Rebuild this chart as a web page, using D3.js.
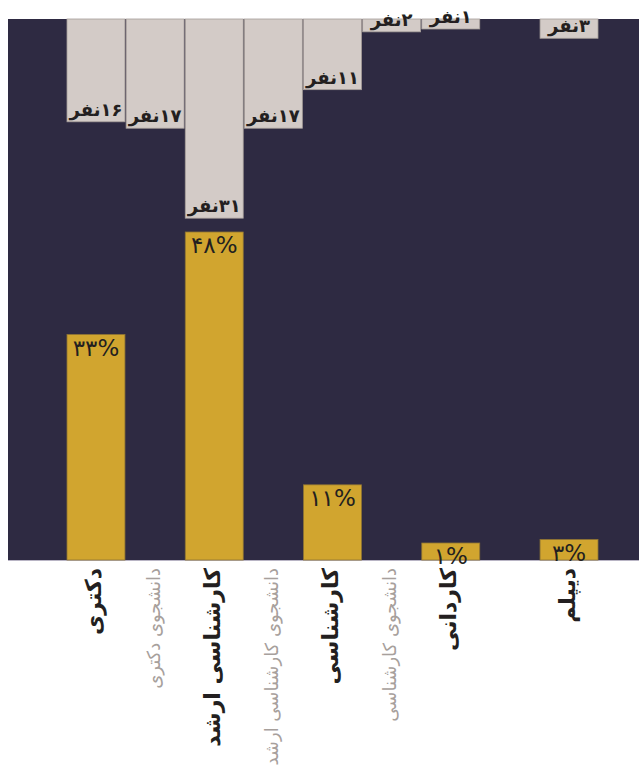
<!DOCTYPE html>
<html>
<head>
<meta charset="utf-8">
<script src="https://cdn.jsdelivr.net/npm/d3@7"></script>
<style>
  body { margin: 0; background: #fff; }
  text { font-family: "DejaVu Sans", sans-serif; }
</style>
</head>
<body>
<svg></svg>
<script>
// categories, left to right (one empty slot before diploma)
const categories = [
    "دکتری",
    "دانشجوی دکتری",
    "کارشناسی ارشد",
    "دانشجوی کارشناسی ارشد",
    "کارشناسی",
    "دانشجوی کارشناسی",
    "کاردانی",
    "",
    "دیپلم"
];
const isStudent = [false, true, false, true, false, true, false, false, false];

// number of people (grey bars hanging from the top)
const counts = [16, 17, 31, 17, 11, 2, 1, null, 3];
const countLabels = ["۱۶نفر", "۱۷نفر", "۳۱نفر", "۱۷نفر", "۱۱نفر", "۲نفر", "۱نفر", "", "۳نفر"];

// percentages (gold bars from the bottom)
const percents = [33, null, 48, null, 11, null, 1, null, 3];
const percentLabels = ["۳۳%", "", "۴۸%", "", "۱۱%", "", "۱%", "", "۳%"];

const W = 639, H = 765;
const panelTop = 19, panelBottom = 560;

const svg = d3.select("svg")
    .attr("width", W)
    .attr("height", H);

// dark panel
svg.append("rect")
    .attr("x", 8).attr("y", panelTop)
    .attr("width", W - 8).attr("height", panelBottom - panelTop)
    .attr("fill", "#2e2a42");
svg.append("line")
    .attr("x1", 8).attr("x2", W)
    .attr("y1", panelBottom + 0.5).attr("y2", panelBottom + 0.5)
    .attr("stroke", "#b8b4c4").attr("stroke-width", 1);

const x = d3.scaleBand()
    .domain(d3.range(categories.length))
    .range([67, 598])
    .paddingInner(0.02);

const yCount = d3.scaleLinear().domain([0, 80]).range([0, 514]);
const yPct = d3.scaleLinear().domain([0, 48]).range([panelBottom, 232]);

const countIdx = d3.range(counts.length).filter(i => counts[i] != null);
const pctIdx = d3.range(percents.length).filter(i => percents[i] != null);

const countH = i => Math.max(yCount(counts[i]), 10);
const pctY = i => Math.min(yPct(percents[i]), panelBottom - 17);

// grey bars
const cg = svg.append("g");
cg.selectAll("rect")
    .data(countIdx)
    .enter().append("rect")
    .attr("x", i => x(i))
    .attr("y", panelTop)
    .attr("width", x.bandwidth())
    .attr("height", countH)
    .attr("fill", "#d3cbc7")
    .attr("stroke", "#a59d99")
    .attr("stroke-width", 0.8);

cg.selectAll("text")
    .data(countIdx)
    .enter().append("text")
    .attr("x", i => x(i) + x.bandwidth() / 2)
    .attr("y", i => panelTop + countH(i) - 6)
    .attr("text-anchor", "middle")
    .attr("direction", "rtl")
    .attr("font-size", 18)
    .attr("font-weight", "bold")
    .attr("fill", "#231f20")
    .text(i => countLabels[i]);

// gold bars
const pg = svg.append("g");
pg.selectAll("rect")
    .data(pctIdx)
    .enter().append("rect")
    .attr("x", i => x(i))
    .attr("y", pctY)
    .attr("width", x.bandwidth())
    .attr("height", i => panelBottom - pctY(i))
    .attr("fill", "#d1a52f")
    .attr("stroke", "#8f7433")
    .attr("stroke-width", 0.8);

pg.selectAll("text")
    .data(pctIdx)
    .enter().append("text")
    .attr("x", i => x(i) + x.bandwidth() / 2)
    .attr("y", i => pctY(i) + 21)
    .attr("text-anchor", "middle")
    .attr("font-size", 23)
    .attr("letter-spacing", 1)
    .attr("fill", "#231f20")
    .text(i => percentLabels[i]);

// category labels, rotated, reading top to bottom
svg.append("g").selectAll("text")
    .data(d3.range(categories.length).filter(i => categories[i] !== ""))
    .enter().append("text")
    .attr("transform", i => `translate(${x(i) + x.bandwidth() / 2 - 2},568) rotate(-90)`)
    .attr("text-anchor", "end")
    .attr("dominant-baseline", "central")
    .attr("font-size", i => isStudent[i] ? 18 : 22)
    .attr("font-weight", i => isStudent[i] ? "normal" : "bold")
    .attr("fill", i => isStudent[i] ? "#a7a09c" : "#231f20")
    .text(i => categories[i]);
</script>
</body>
</html>
